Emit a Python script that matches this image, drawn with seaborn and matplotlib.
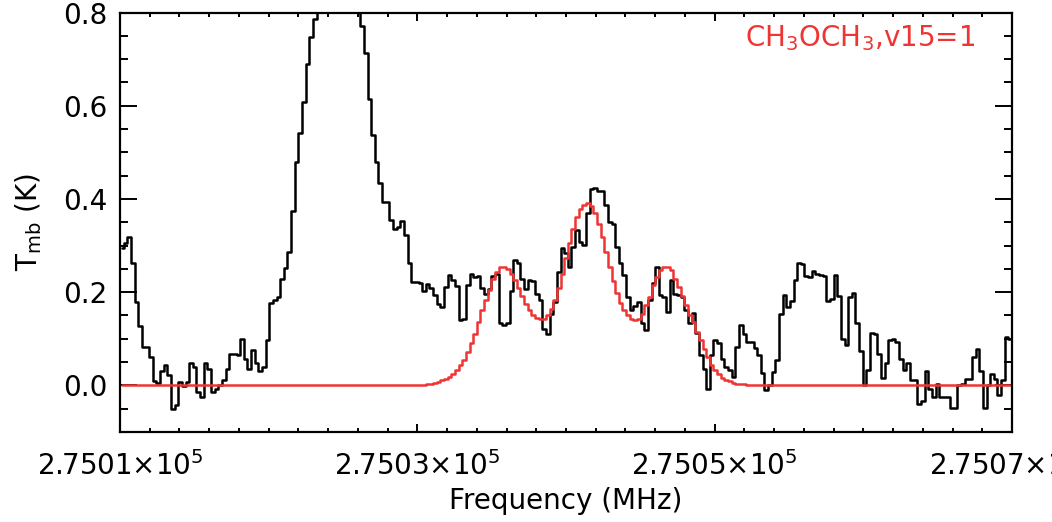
import numpy as np
import matplotlib
matplotlib.use("Agg")
import matplotlib.pyplot as plt
import seaborn as sns
from matplotlib.ticker import MultipleLocator, FixedLocator, FuncFormatter

# ---------------- data ----------------
f_start = 275010.0   # MHz, first channel edge
f_stop = 275070.0    # MHz, last channel edge

observed = [
    0.294, 0.306, 0.318, 0.262, 0.179, 0.127, 0.082, 0.082, 0.060, 0.009,
    0.005, 0.030, 0.043, 0.022, -0.050, -0.042, 0.007, -0.002, 0.007, 0.049,
    0.039, -0.014, -0.025, 0.047, 0.036, -0.014, -0.007, 0.000, 0.011, 0.036,
    0.068, 0.068, 0.066, 0.100, 0.057, 0.036, 0.075, 0.047, 0.031, 0.039,
    0.098, 0.176, 0.183, 0.189, 0.229, 0.251, 0.287, 0.375, 0.480, 0.541,
    0.609, 0.690, 0.747, 0.785, 0.860, 0.930, 0.990, 1.040, 1.080, 1.100,
    1.100, 1.080, 1.040, 0.980, 0.910, 0.840, 0.772, 0.713, 0.614, 0.538,
    0.480, 0.435, 0.394, 0.394, 0.355, 0.335, 0.340, 0.353, 0.323, 0.262,
    0.222, 0.222, 0.220, 0.202, 0.217, 0.208, 0.194, 0.174, 0.168, 0.211,
    0.237, 0.227, 0.213, 0.141, 0.143, 0.215, 0.240, 0.233, 0.234, 0.210,
    0.197, 0.206, 0.234, 0.238, 0.134, 0.129, 0.134, 0.202, 0.269, 0.262,
    0.229, 0.206, 0.227, 0.224, 0.197, 0.183, 0.122, 0.111, 0.153, 0.179,
    0.244, 0.294, 0.283, 0.253, 0.297, 0.333, 0.308, 0.301, 0.369, 0.421,
    0.424, 0.416, 0.417, 0.387, 0.351, 0.346, 0.297, 0.262, 0.237, 0.190,
    0.161, 0.170, 0.179, 0.133, 0.118, 0.183, 0.219, 0.254, 0.194, 0.190,
    0.158, 0.226, 0.197, 0.194, 0.190, 0.161, 0.133, 0.156, 0.113, 0.065,
    0.036, -0.007, 0.065, 0.097, 0.090, 0.057, 0.039, 0.034, 0.018, 0.082,
    0.130, 0.111, 0.093, 0.093, 0.080, 0.065, 0.027, -0.009, 0.000, 0.029,
    0.055, 0.154, 0.194, 0.168, 0.181, 0.226, 0.262, 0.260, 0.234, 0.233,
    0.246, 0.239, 0.237, 0.234, 0.181, 0.186, 0.237, 0.192, 0.100, 0.086,
    0.190, 0.199, 0.133, 0.074, 0.000, 0.032, 0.113, 0.111, 0.067, 0.015,
    0.047, 0.098, 0.100, 0.093, 0.057, 0.032, 0.047, 0.011, 0.011, -0.039,
    -0.034, 0.030, -0.007, -0.025, 0.004, -0.024, -0.025, -0.024, -0.048, -0.048,
    0.000, 0.004, 0.014, 0.014, 0.060, 0.077, 0.031, -0.048, 0.000, 0.025,
    0.014, -0.020, 0.011, 0.104, 0.100,
]

model_lead = [0.0] * 81
model_line = [
    0.0005, 0.001, 0.0015, 0.002, 0.0036, 0.005, 0.007, 0.011, 0.014, 0.019,
    0.025, 0.032, 0.043, 0.055, 0.072, 0.091, 0.111, 0.136, 0.161, 0.184,
    0.204, 0.229, 0.244, 0.253, 0.254, 0.250, 0.240, 0.226, 0.209, 0.192,
    0.175, 0.161, 0.151, 0.145, 0.142, 0.143, 0.150, 0.163, 0.183, 0.209,
    0.240, 0.273, 0.306, 0.336, 0.361, 0.378, 0.388, 0.391, 0.385, 0.370,
    0.347, 0.318, 0.286, 0.254, 0.224, 0.198, 0.177, 0.161, 0.150, 0.143,
    0.141, 0.143, 0.154, 0.172, 0.190, 0.215, 0.233, 0.247, 0.253, 0.254,
    0.248, 0.229, 0.211, 0.191, 0.172, 0.151, 0.136, 0.115, 0.097, 0.079,
    0.061, 0.043, 0.032, 0.024, 0.016, 0.012, 0.009, 0.006, 0.004, 0.003,
    0.002, 0.0015, 0.001, 0.0005,
]
model_tail = [0.0] * (len(observed) - len(model_lead) - len(model_line))
model = model_lead + model_line + model_tail

x_major_ticks = [275010, 275030, 275050, 275070]
y_major_ticks = [0.0, 0.2, 0.4, 0.6, 0.8]
species_label = r"CH$_3$OCH$_3$,v15=1"

# ---------------- channel axis ----------------
n_chan = len(observed)
chan_width = (f_stop - f_start) / n_chan
freq = f_start + chan_width * (np.arange(n_chan) + 0.5)

# ---------------- style ----------------
sns.set_theme(style="ticks")
plt.rcParams["font.family"] = ["DejaVu Sans"]
plt.rcParams["mathtext.fontset"] = "dejavusans"
plt.rcParams["text.color"] = "black"
plt.rcParams["axes.labelcolor"] = "black"
plt.rcParams["xtick.color"] = "black"
plt.rcParams["ytick.color"] = "black"

RED = "#ef3434"
W, H = 1052, 522
fig = plt.figure(figsize=(W / 100, H / 100), dpi=100)
ax = fig.add_axes([120 / W, 1 - 432 / H, 892 / W, (432 - 12.5) / H])

sns.lineplot(x=freq, y=observed, ax=ax, color="black", lw=1.8,
             drawstyle="steps-mid", estimator=None, sort=False)
sns.lineplot(x=freq, y=model, ax=ax, color=RED, lw=1.8,
             drawstyle="steps-mid", estimator=None, sort=False)

ax.set_xlim(f_start, f_stop)
ax.set_ylim(-0.1, 0.8)

ax.xaxis.set_major_locator(FixedLocator(x_major_ticks))
ax.xaxis.set_minor_locator(MultipleLocator(2))
ax.yaxis.set_major_locator(FixedLocator(y_major_ticks))
ax.yaxis.set_minor_locator(MultipleLocator(0.05))
ax.xaxis.set_major_formatter(
    FuncFormatter(lambda v, p: f"{v / 1e5:.4f}" + r"$\times$10$^5$"))
ax.yaxis.set_major_formatter(FuncFormatter(lambda v, p: f"{v:.1f}"))

ax.tick_params(which="both", direction="in", top=True, right=True,
               colors="black", labelcolor="black", width=1.4, labelsize=20)
ax.tick_params(axis="x", which="major", length=6, pad=14)
ax.tick_params(axis="x", which="minor", length=3)
ax.tick_params(axis="y", which="major", length=12, pad=9)
ax.tick_params(axis="y", which="minor", length=6)

for s in ax.spines.values():
    s.set_linewidth(1.6)
    s.set_color("black")

ax.set_xlabel("Frequency (MHz)", fontsize=20, labelpad=4, color="black")
ax.set_ylabel(r"T$_{\mathrm{mb}}$ (K)", fontsize=20, labelpad=14, color="black")

fig.text(975 / W, 1 - 46 / H, species_label, color=RED, fontsize=20,
         ha="right", va="baseline")

fig.savefig("out.png", dpi=100)
